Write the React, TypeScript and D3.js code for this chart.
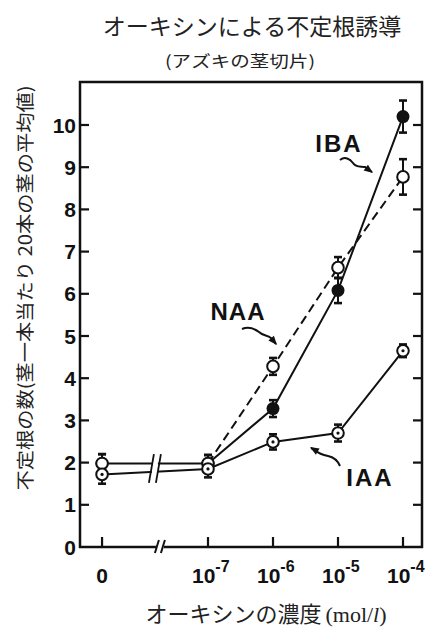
import React from "react";
import { scaleLinear, line } from "d3";

const W = 425;
const H = 628;

// x: log10 of auxin concentration (control 0 is drawn left of the axis break)
const concExp = [null, -7, -6, -5, -4];
const tickExp = ["-7", "-6", "-5", "-4"];
const yTicks = [0, 1, 2, 3, 4, 5, 6, 7, 8, 9, 10];

const iaa = [1.72, 1.85, 2.49, 2.7, 4.65];
const iaaErr = [0.22, 0.2, 0.18, 0.2, 0.15];
const naa = [1.98, 1.98, 4.28, 6.62, 8.77];
const naaErr = [0.22, 0.2, 0.2, 0.25, 0.42];
const iba = [1.98, 1.98, 3.28, 6.08, 10.2];
const ibaErr = [0.22, 0.2, 0.2, 0.3, 0.38];

const left = 80, right = 422, top = 82, bottom = 547;
const zeroOffset = 1.63; // distance (in decades) of control column from 10^-7
const breakOffset = 0.74;

const xScale = scaleLinear().domain([-7, -4]).range([208, 403]);
const yScale = scaleLinear().domain([0, 10]).range([bottom, 125]);
const xOf = (e: number | null) => (e === null ? xScale(-7 - zeroOffset) : xScale(e));

const font = "'Liberation Sans', Arial, sans-serif";
const jp = "'Noto Sans CJK JP', sans-serif";

function arrowHead(x1: number, y1: number, x2: number, y2: number) {
  const a = Math.atan2(y2 - y1, x2 - x1);
  const l = 9, w = 3.6;
  const bx = x2 - l * Math.cos(a), by = y2 - l * Math.sin(a);
  const px = -Math.sin(a) * w, py = Math.cos(a) * w;
  return `M${x2},${y2}L${bx + px},${by + py}L${bx - px},${by - py}Z`;
}

function Wavy({ d, from, to }: { d: string; from: [number, number]; to: [number, number] }) {
  return (
    <g>
      <path d={d} fill="none" stroke="#111" strokeWidth={2} />
      <path d={arrowHead(from[0], from[1], to[0], to[1])} fill="#111" />
    </g>
  );
}

function ErrorBars({ vals, errs, startAt = 0 }: { vals: number[]; errs: number[]; startAt?: number }) {
  return (
    <g stroke="#111">
      {vals.map((v, i) => {
        if (i < startAt) return null;
        const x = xOf(concExp[i]);
        const y1 = yScale(v + errs[i]);
        const y2 = yScale(v - errs[i]);
        return (
          <g key={i}>
            <line x1={x} x2={x} y1={y1} y2={y2} strokeWidth={2} />
            <line x1={x - 4} x2={x + 4} y1={y1} y2={y1} strokeWidth={2.6} />
            <line x1={x - 4} x2={x + 4} y1={y2} y2={y2} strokeWidth={2.6} />
          </g>
        );
      })}
    </g>
  );
}

export default function App() {
  const idx = [0, 1, 2, 3, 4];
  const mk = (vals: number[]) =>
    line<number>()
      .x((i) => xOf(concExp[i]))
      .y((i) => yScale(vals[i]));

  const breakX = xScale(-7 - breakOffset);

  return (
    <svg width={W} height={H} style={{ position: "absolute", left: 0, top: 0, background: "#fff" }}>
      {/* titles */}
      <text x={252} y={35} textAnchor="middle" fontFamily={jp} fontSize={23} fill="#222">
        オーキシンによる不定根誘導
      </text>
      <text x={240} y={67} textAnchor="middle" fontFamily={jp} fontSize={16} textLength={150} lengthAdjust="spacingAndGlyphs" fill="#222">
        (アズキの茎切片)
      </text>

      {/* frame */}
      <rect x={left} y={top} width={right - left} height={bottom - top} fill="none" stroke="#111" strokeWidth={2.5} />

      {/* y ticks & labels */}
      {yTicks.map((t) => (
        <g key={t}>
          {t > 0 && <line x1={left} x2={left + 9} y1={yScale(t)} y2={yScale(t)} stroke="#111" strokeWidth={2.2} />}
          {t > 0 && <line x1={right} x2={right - 9} y1={yScale(t)} y2={yScale(t)} stroke="#111" strokeWidth={2.2} />}
          <text x={76} y={yScale(t) + 7.5} textAnchor="end" fontFamily={font} fontWeight="bold" fontSize={21} fill="#111">
            {t}
          </text>
        </g>
      ))}

      {/* x ticks & labels */}
      {concExp.map((e, i) => (
        <line key={i} x1={xOf(e)} x2={xOf(e)} y1={bottom} y2={bottom - 10} stroke="#111" strokeWidth={2.2} />
      ))}
      <text x={xOf(null)} y={583} textAnchor="middle" fontFamily={font} fontWeight="bold" fontSize={21} fill="#111">
        0
      </text>
      {tickExp.map((t) => (
        <text key={t} x={xScale(+t) - 16} y={583} fontFamily={font} fontWeight="bold" fontSize={21} fill="#111">
          10
          <tspan fontSize={16} dy={-11}>{t}</tspan>
        </text>
      ))}

      {/* axis break on x axis */}
      <rect x={breakX - 3} y={bottom - 3} width={7} height={6} fill="#fff" />
      <line x1={breakX - 5} x2={breakX - 1} y1={bottom + 6} y2={bottom - 7} stroke="#111" strokeWidth={2} />
      <line x1={breakX + 1} x2={breakX + 5} y1={bottom + 6} y2={bottom - 7} stroke="#111" strokeWidth={2} />

      {/* series lines */}
      <path d={mk(iba)(idx) ?? ""} fill="none" stroke="#111" strokeWidth={2} />
      <path d={mk(iaa)(idx) ?? ""} fill="none" stroke="#111" strokeWidth={2} />
      <path d={mk(naa)(idx.slice(1)) ?? ""} fill="none" stroke="#111" strokeWidth={2} strokeDasharray="9,5" />

      {/* break on the control lines */}
      <rect x={breakX - 8} y={yScale(2.2)} width={6} height={yScale(1.5) - yScale(2.2)} fill="#fff" />
      <line x1={breakX - 11} x2={breakX - 6} y1={yScale(1.52)} y2={yScale(2.2)} stroke="#111" strokeWidth={1.8} />
      <line x1={breakX - 4} x2={breakX + 1} y1={yScale(1.52)} y2={yScale(2.2)} stroke="#111" strokeWidth={1.8} />

      {/* error bars */}
      <ErrorBars vals={iba} errs={ibaErr} />
      <ErrorBars vals={naa} errs={naaErr} />
      <ErrorBars vals={iaa} errs={iaaErr} />

      {/* markers */}
      {iba.map((v, i) => (
        <circle key={"b" + i} cx={xOf(concExp[i])} cy={yScale(v)} r={6.5} fill="#111" />
      ))}
      {naa.map((v, i) => (
        <circle key={"n" + i} cx={xOf(concExp[i])} cy={yScale(v)} r={5.8} fill="#fff" stroke="#111" strokeWidth={2} />
      ))}
      {iaa.map((v, i) => (
        <g key={"a" + i}>
          <circle cx={xOf(concExp[i])} cy={yScale(v)} r={5.8} fill="#fff" stroke="#111" strokeWidth={2} />
          <circle cx={xOf(concExp[i])} cy={yScale(v)} r={1.6} fill="#111" />
        </g>
      ))}

      {/* annotations */}
      <text x={339} y={152} textAnchor="middle" fontFamily={font} fontWeight="bold" fontSize={24} letterSpacing={2} fill="#111">
        IBA
      </text>
      <Wavy d="M340,160 C345,156 350,159 353,163 C356,168 361,166 365,167 L372,172" from={[365, 167]} to={[373, 173]} />

      <text x={238} y={320} textAnchor="middle" fontFamily={font} fontWeight="bold" fontSize={24} letterSpacing={1} fill="#111">
        NAA
      </text>
      <Wavy d="M242,329 C249,326 255,329 259,332 C263,336 267,335 271,338 L276,344" from={[271, 338]} to={[277, 345]} />

      <text x={370} y={486} textAnchor="middle" fontFamily={font} fontWeight="bold" fontSize={24} letterSpacing={2} fill="#111">
        IAA
      </text>
      <Wavy d="M340,466 C337,459 333,457 328,456 C322,455 318,453 315,450 L311,448" from={[315, 450]} to={[310, 447]} />

      {/* axis titles */}
      <text x={266} y={622} textAnchor="middle" fontFamily={jp} fontSize={22} fill="#222">
        オーキシンの濃度
        <tspan fontFamily="'Liberation Serif', serif" dx={4}>(mol/</tspan>
        <tspan fontFamily="'Liberation Serif', serif" fontStyle="italic">l</tspan>
        <tspan fontFamily="'Liberation Serif', serif">)</tspan>
      </text>
      <text
        transform="translate(24,288) rotate(-90)"
        textAnchor="middle"
        dominantBaseline="central"
        fontFamily={jp}
        fontSize={18}
        textLength={405}
        lengthAdjust="spacingAndGlyphs"
        fill="#222"
      >
        不定根の数(茎一本当たり 20本の茎の平均値)
      </text>
    </svg>
  );
}
